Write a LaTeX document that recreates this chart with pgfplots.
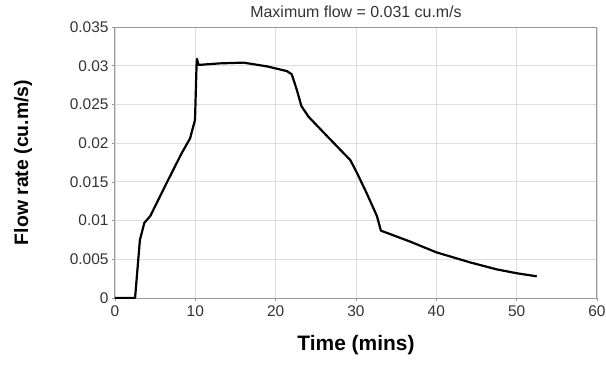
\documentclass[border=0pt]{standalone}
\usepackage{pgfplots}
\pgfplotsset{compat=1.18}
\usepackage{fontspec}
\setmainfont{Liberation Sans}
\definecolor{gridgray}{HTML}{DDDDDD}
\definecolor{framegray}{HTML}{999999}
\definecolor{textgray}{HTML}{333333}
\begin{document}
\begin{tikzpicture}
\useasboundingbox (-115bp,-67bp) rectangle (491bp,298bp);
\begin{axis}[
  scale only axis,
  width=482bp, height=271bp,
  xmin=0, xmax=60, ymin=0, ymax=0.035,
  xtick={0,10,20,30,40,50,60},
  xticklabels={0,10,20,30,40,50,60},
  ytick={0,0.005,0.01,0.015,0.02,0.025,0.03,0.035},
  yticklabels={0,0.005,0.01,0.015,0.02,0.025,0.03,0.035},
  scaled y ticks=false,
  grid=major,
  major grid style={gridgray, line width=0.8bp},
  axis line style={framegray, line width=1bp},
  tick style={framegray, line width=0.6bp},
  tick align=outside,
  major tick length=3bp,
  xtick pos=bottom, ytick pos=left,
  tick label style={font=\fontsize{15.5}{17}\selectfont, text=textgray},
  yticklabel style={xshift=0bp},
  xticklabel style={yshift=-1bp},
  title={Maximum flow = 0.031 cu.m/s},
  title style={font=\fontsize{16}{18}\selectfont, text=textgray, at={(axis description cs:0.5,1)}, anchor=base, yshift=4bp},
  xlabel={Time (mins)},
  xlabel style={font=\fontsize{21}{24}\selectfont\bfseries, at={(axis description cs:0.5,-0.1734)}, anchor=center},
  ylabel={Flow rate (cu.m/s)},
  ylabel style={font=\fontsize{19.5}{22}\selectfont\bfseries, at={(axis description cs:-0.1909,0.5)}, anchor=center, rotate=0},
]
\addplot[black, line width=2.2bp, line join=round] coordinates {
(0,0) (2.5,0) (3.1,0.0075) (3.65,0.0097) (4.4,0.0106) (6.4,0.0148) (8.3,0.0187)
(9.34,0.0206) (9.96,0.0230) (10.15,0.0300) (10.2,0.0309) (10.4,0.0301)
(13,0.0303) (16,0.0304) (19,0.0299) (21.4,0.0293) (22,0.0289) (22.6,0.0270)
(23.2,0.0248) (24.1,0.0234) (26.5,0.0208) (29.3,0.0178) (30.1,0.0162)
(31.3,0.0136) (32.6,0.0106) (33.1,0.0087) (36.7,0.0073) (40,0.0059)
(44.2,0.0046) (47.5,0.0037) (50,0.0032) (52.5,0.0028)
};
\end{axis}
\end{tikzpicture}
\end{document}
